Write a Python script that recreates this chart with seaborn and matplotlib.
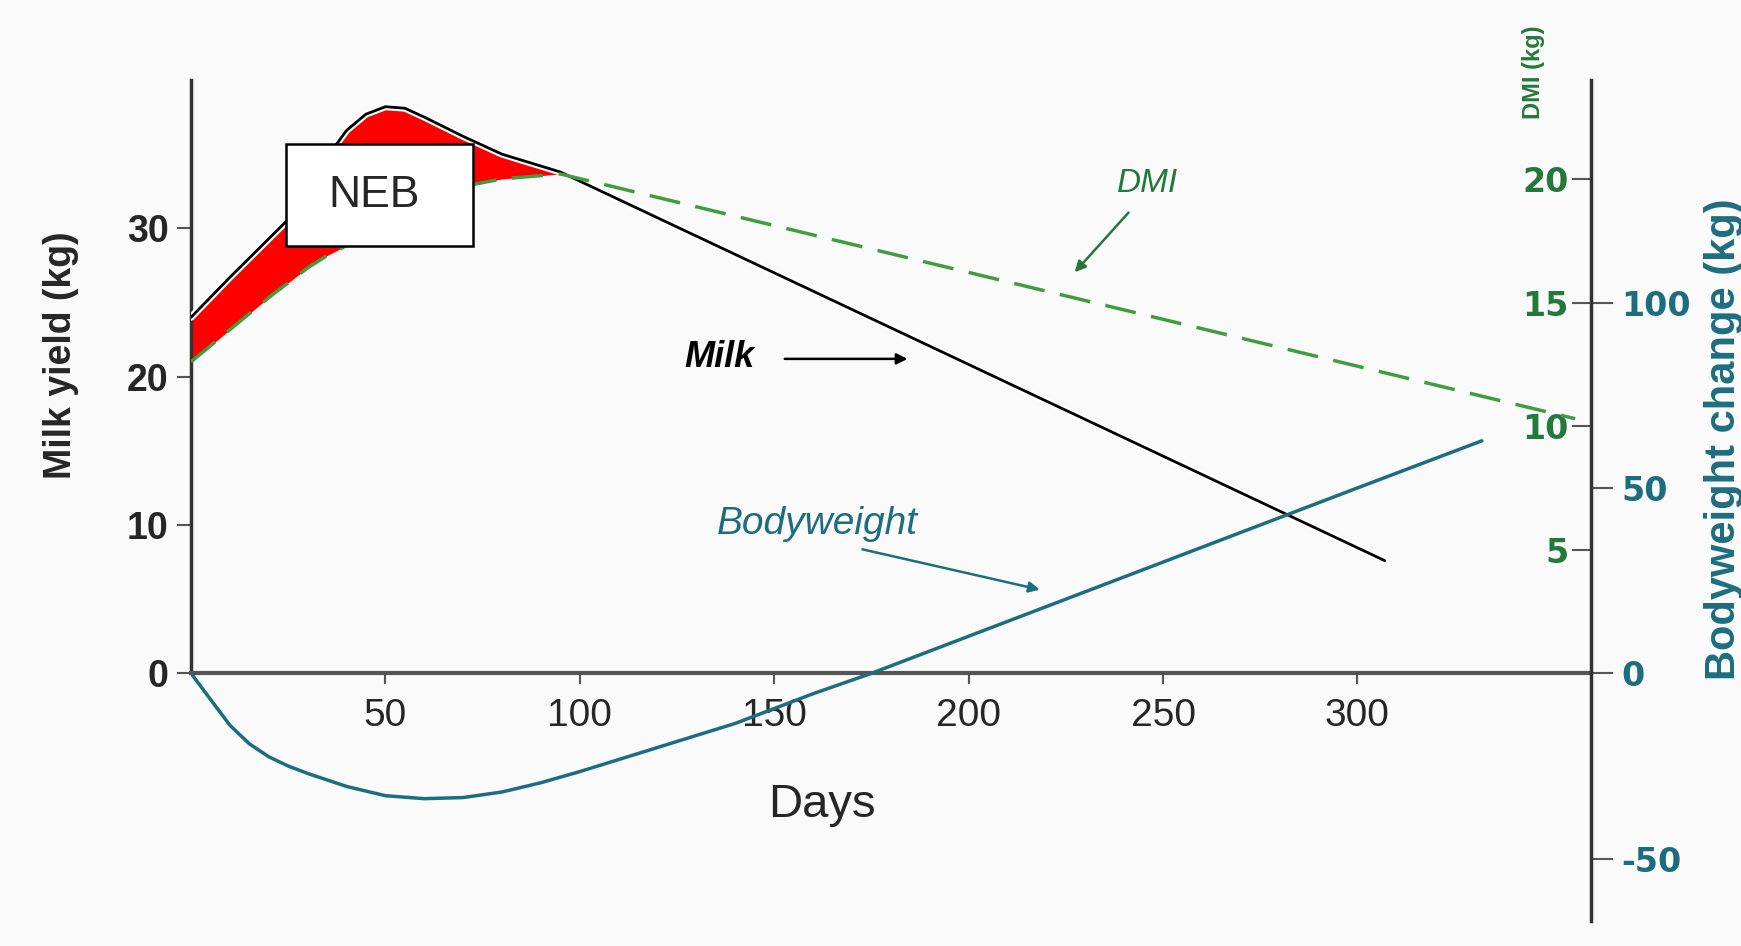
import numpy as np
import pandas as pd
import matplotlib
matplotlib.use("Agg")
import matplotlib.pyplot as plt
import matplotlib.patheffects as pe
from matplotlib.patches import Rectangle
import seaborn as sns

# données
milk_days = [0, 10, 20, 25, 30, 35, 40, 45, 50, 55, 60, 70, 80, 95, 307]
milk_kg = [24.0, 26.7, 29.3, 30.6, 32.3, 34.8, 36.6, 37.7, 38.2, 38.1, 37.5, 36.2, 35.0, 33.8, 7.6]

dmi_days = [0, 10, 20, 25, 30, 35, 40, 45, 50, 55, 60, 70, 80, 95, 356]
dmi_kg = [12.6, 13.9, 15.2, 15.8, 16.4, 16.9, 17.3, 17.8, 18.2, 18.6, 19.0, 19.7, 20.0, 20.2, 10.3]

bw_days = [0, 5, 10, 15, 20, 25, 30, 40, 50, 60, 70, 80, 90, 100, 120, 140, 160, 175, 200, 250, 300, 332]
bw_kg = [0, -7, -14, -19, -22.5, -25, -27, -30.5, -33, -33.8, -33.5, -32, -29.5, -26.5,
         -20, -13.5, -5.5, 0, 10, 30, 50, 62.7]

x_ticks = [50, 100, 150, 200, 250, 300]
milk_ticks = [0, 10, 20, 30]
dmi_ticks = [5, 10, 15, 20]
bw_ticks = [-50, 0, 50, 100]

n_neb = 14  # points communs lait / DMI (jours 0 à 95)

green_txt = "#23793a"
green_line = "#3f9c3f"
teal = "#1d6d80"
bg = "#fafafa"

sns.set_style("white")
plt.rcParams["font.family"] = ["Liberation Sans", "DejaVu Sans"]

milk_lim = (-16.7, 40)
scale = 40 / 24  # DMI -> échelle du lait
dmi_lim = (milk_lim[0] / scale, 24)
bw_lim = (milk_lim[0] * 160 / 40, 160)

fig = plt.figure(figsize=(17.41, 9.46), dpi=100, facecolor=bg)
ax = fig.add_axes([0.1097, 0.0264, 0.804, 0.889])
ax.set_facecolor(bg)

# zone NEB
fill_df = pd.DataFrame({"day": milk_days[:n_neb], "milk": milk_kg[:n_neb],
                        "dmi": np.array(dmi_kg[:n_neb]) * scale})
ax.fill_between(fill_df["day"], fill_df["dmi"], fill_df["milk"], color="#ff0000", lw=0, zorder=1)

sns.lineplot(x=milk_days, y=milk_kg, ax=ax, color="black", lw=2, zorder=3,
             path_effects=[pe.Stroke(linewidth=5, foreground="white"), pe.Normal()])
ax.set_xlim(0, 360)
ax.set_ylim(*milk_lim)

for s in ax.spines.values():
    s.set_visible(False)
ax.spines["left"].set_visible(True)
ax.spines["left"].set_bounds(0, 40)
ax.spines["left"].set_color("#333333")
ax.spines["left"].set_linewidth(2.5)
ax.spines["bottom"].set_visible(True)
ax.spines["bottom"].set_position(("data", 0))
ax.spines["bottom"].set_color("#555555")
ax.spines["bottom"].set_linewidth(3)

ax.set_xticks(x_ticks)
ax.set_yticks(milk_ticks)
ax.tick_params(axis="x", bottom=True, length=8, width=1.5, color="#555555", labelsize=28, pad=10)
ax.tick_params(axis="y", left=True, length=10, width=1.5, color="#555555", labelsize=27, pad=6)
plt.setp(ax.get_yticklabels(), fontweight="bold")
ax.set_xlabel("")
ax.set_ylabel("")

# DMI
ax_dmi = ax.twinx()
sns.lineplot(x=dmi_days, y=dmi_kg, ax=ax_dmi, color=green_line, lw=2.5, linestyle=(0, (9, 4.5)), zorder=2)
ax_dmi.set_ylim(*dmi_lim)
for s in ax_dmi.spines.values():
    s.set_visible(False)
ax_dmi.yaxis.tick_left()
ax_dmi.spines["left"].set_position(("axes", 1.0))
ax_dmi.set_yticks(dmi_ticks)
ax_dmi.set_yticklabels([str(t) for t in dmi_ticks], family="DejaVu Sans", fontweight="bold")
ax_dmi.tick_params(axis="y", left=True, length=14, width=1.5, color="#555555", labelcolor=green_txt,
                   labelsize=24, pad=2)
ax_dmi.set_ylabel("")

# poids vif
ax_bw = ax.twinx()
sns.lineplot(x=bw_days, y=bw_kg, ax=ax_bw, color=teal, lw=2.5)
ax_bw.set_ylim(*bw_lim)
for s in ax_bw.spines.values():
    s.set_visible(False)
ax_bw.spines["right"].set_visible(True)
ax_bw.spines["right"].set_color("#333333")
ax_bw.spines["right"].set_linewidth(2.5)
ax_bw.set_yticks(bw_ticks)
ax_bw.set_yticklabels([str(t) for t in bw_ticks], family="DejaVu Sans", fontweight="bold")
ax_bw.tick_params(axis="y", right=True, length=16, width=1.5, color="#555555", labelcolor=teal,
                  labelsize=24, pad=6)
ax_bw.set_ylabel("")

# annotations (coordonnées de l'axe du lait)
ax_bw.add_patch(Rectangle((24.5, 28.8), 48.1, 6.9, transform=ax.transData, facecolor="white",
                          edgecolor="black", lw=1.8, zorder=10))
ax_bw.text(47, 32.2, "NEB", transform=ax.transData, ha="center", va="center", fontsize=32, zorder=11)

ax_bw.text(246, 33.0, "DMI", transform=ax.transData, ha="center", va="center", fontsize=24,
           style="italic", color=green_txt)
ax_bw.annotate("", xy=(226.8, 26.9), xytext=(241.6, 31.2), xycoords=ax.transData, textcoords=ax.transData,
               arrowprops=dict(arrowstyle="-|>", color=green_txt, lw=1.8, mutation_scale=16))
ax_bw.text(136, 21.3, "Milk", transform=ax.transData, ha="center", va="center", fontsize=26,
           style="italic", fontweight="bold", color="black")
ax_bw.annotate("", xy=(185, 21.2), xytext=(152, 21.2), xycoords=ax.transData, textcoords=ax.transData,
               arrowprops=dict(arrowstyle="-|>", color="black", lw=1.8, mutation_scale=16))
ax_bw.text(161, 10.1, "Bodyweight", transform=ax.transData, ha="center", va="center", fontsize=28,
           style="italic", color=teal)
ax_bw.annotate("", xy=(219, 5.6), xytext=(172, 8.4), xycoords=ax.transData, textcoords=ax.transData,
               arrowprops=dict(arrowstyle="-|>", color=teal, lw=1.8, mutation_scale=16))

# titres des axes
ax.text(0.451, 0.1385, "Days", transform=ax.transAxes, ha="center", va="center", fontsize=34)
fig.text(0.035, 0.625, "Milk yield (kg)", rotation=90, ha="center", va="center", fontsize=27,
         fontweight="bold")
fig.text(0.99, 0.536, "Bodyweight change (kg)", rotation=90, ha="center", va="center", fontsize=30,
         fontweight="bold", color=teal)
fig.text(0.881, 0.924, "DMI (kg)", rotation=90, ha="center", va="center", fontsize=17,
         fontweight="bold", color=green_txt)

fig.savefig("out.png", dpi=100, facecolor=bg)
